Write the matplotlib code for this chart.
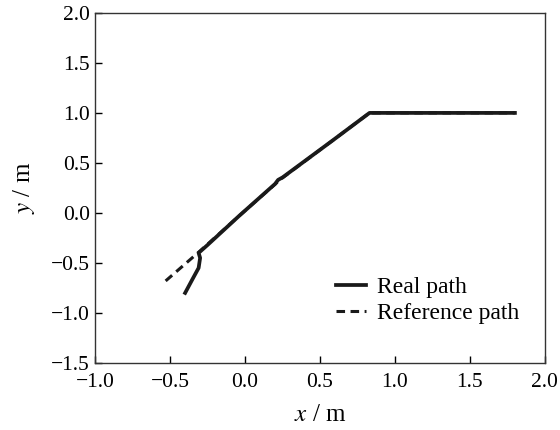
import matplotlib
matplotlib.use('Agg')
import matplotlib.pyplot as plt

# reference path (dashed)
ref_x = [-0.53, -0.30, -0.04, 0.24, 0.58, 0.83, 1.80]
ref_y = [-0.68, -0.38, -0.03, 0.34, 0.72, 1.00, 1.00]

# real path (solid)
real_x = [-0.40, -0.35, -0.31, -0.30, -0.31, -0.25, -0.04, 0.20, 0.22, 0.25, 0.58, 0.83, 1.80]
real_y = [-0.80, -0.66, -0.55, -0.45, -0.40, -0.32, -0.03, 0.29, 0.33, 0.355, 0.72, 1.00, 1.00]

x_ticks = [-1.0, -0.5, 0.0, 0.5, 1.0, 1.5, 2.0]
y_ticks = [-1.5, -1.0, -0.5, 0.0, 0.5, 1.0, 1.5, 2.0]

plt.rcParams['font.family'] = ['Liberation Serif', 'DejaVu Serif']
plt.rcParams['mathtext.fontset'] = 'stix'

fig = plt.figure(figsize=(5.6, 4.3), dpi=100)
ax = fig.add_axes([0.170, 0.156, 0.803, 0.814])

ax.plot(ref_x, ref_y, color='#1a1a1a', linestyle=(0, (2.8, 1.8)), linewidth=2.2,
        label='Reference path')
ax.plot(real_x, real_y, color='#1a1a1a', linestyle='-', linewidth=2.7, label='Real path')

ax.set_xlim(-1.0, 2.0)
ax.set_ylim(-1.5, 2.0)
ax.set_xticks(x_ticks)
ax.set_yticks(y_ticks)
ax.set_xticklabels([f'{v:.1f}'.replace('-', '\u2212') for v in x_ticks])
ax.set_yticklabels([f'{v:.1f}'.replace('-', '\u2212') for v in y_ticks])
ax.tick_params(direction='in', length=5, width=1, labelsize=15.5, pad=4)
ax.tick_params(axis='x', pad=7)
for s in ax.spines.values():
    s.set_linewidth(1.0)
    s.set_color('#333333')

ax.set_xlabel(r'$x$ / m', fontsize=18, labelpad=9)
ax.set_ylabel(r'$y$ / m', fontsize=18, labelpad=10)

h, l = ax.get_legend_handles_labels()
ax.legend(h[::-1], l[::-1], loc='lower right', frameon=False, fontsize=17,
          handlelength=1.3, handletextpad=0.45, labelspacing=0.2,
          bbox_to_anchor=(0.99, 0.05))

fig.savefig('out.png', dpi=100)
